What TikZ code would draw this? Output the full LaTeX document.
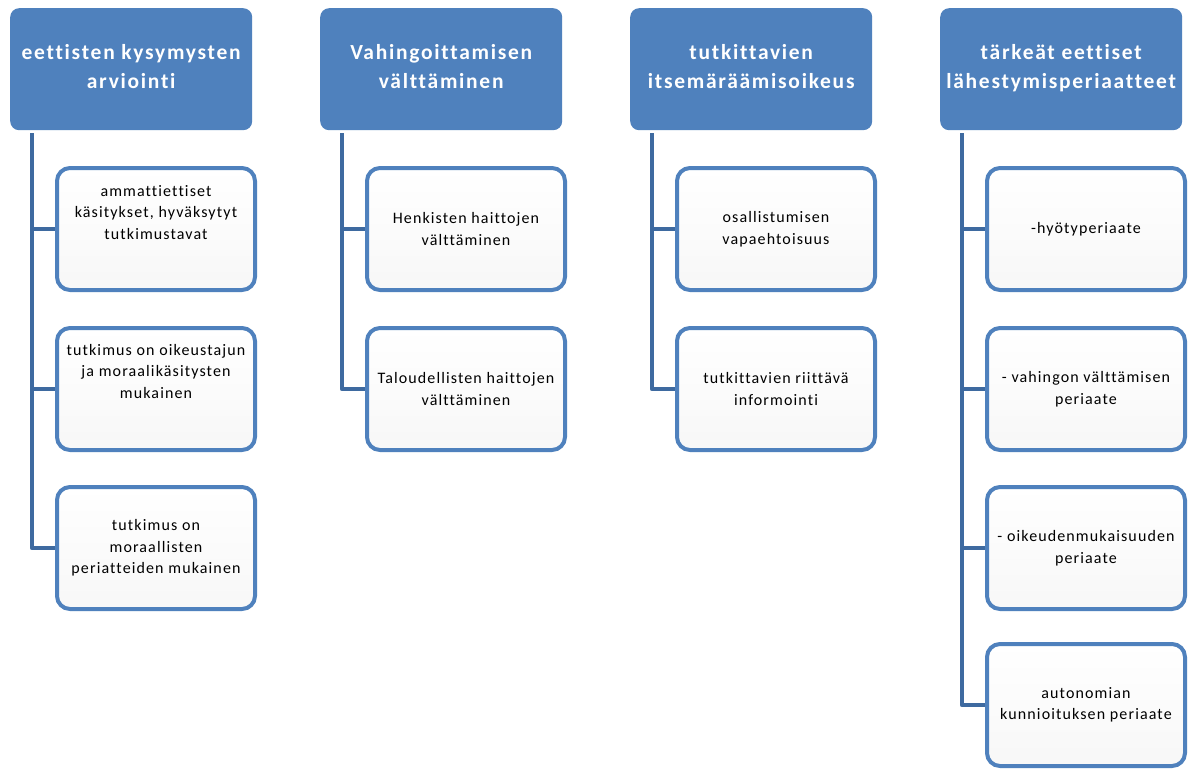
\documentclass[tikz,border=0pt]{standalone}
\usepackage{fontspec}
\setmainfont{Carlito}[Ligatures=NoCommon]
\newfontfamily\hdrfont{Carlito}[LetterSpace=8,Ligatures=NoCommon]
\newfontfamily\kidfont{Carlito}[LetterSpace=7,Ligatures=NoCommon]
\definecolor{hdrblue}{RGB}{79,129,189}
\definecolor{connblue}{RGB}{62,106,160}
\begin{document}
\begin{tikzpicture}[x=1pt,y=-1pt,
  hdr/.style={fill=hdrblue, rounded corners=9pt, minimum width=242pt, minimum height=122pt,
    anchor=north west, inner sep=0pt, text=white, align=center,
    font=\hdrfont\fontsize{21.5}{29}\selectfont\bfseries},
  kid/.style={draw=hdrblue, line width=4pt, rounded corners=13pt, top color=white, bottom color=black!3,
    minimum width=198pt, minimum height=122pt, inner sep=0pt, align=center, text=black,
    font=\kidfont\fontsize{16}{21.5}\selectfont},
  conn/.style={draw=connblue, line width=4.5pt, line join=round}]
\useasboundingbox (0,0) rectangle (1195,769);
\fill[white] (0,0) rectangle (1195,769);

% headers
\node[hdr] (h1) at (10,8) {eettisten kysymysten\\arviointi\rule[-6pt]{0pt}{0pt}};
\node[hdr] (h2) at (320,8) {Vahingoittamisen\\välttäminen\rule[-6pt]{0pt}{0pt}};
\node[hdr] (h3) at (630,8) {tutkittavien\\itsemäräämisoikeus\rule[-6pt]{0pt}{0pt}};
\node[hdr] (h4) at (940,8) {tärkeät eettiset\\lähestymisperiaatteet\rule[-6pt]{0pt}{0pt}};

% connector origins
\coordinate (v1) at (32,133);
\coordinate (v2) at (342,133);
\coordinate (v3) at (652,133);
\coordinate (v4) at (962,133);

% column 1
\node[kid] (c11) at (156,229) {ammattiettiset\\käsitykset, hyväksytyt\\tutkimustavat\rule[-34pt]{0pt}{0pt}};
\node[kid] (c12) at (156,389) {tutkimus on oikeustajun\\ja moraalikäsitysten\\mukainen\rule[-36pt]{0pt}{0pt}};
\node[kid] (c13) at (156,548) {tutkimus on\\moraallisten\\periatteiden mukainen};

% column 2
\node[kid] (c21) at (466,229) {Henkisten haittojen\\välttäminen};
\node[kid] (c22) at (466,389) {Taloudellisten haittojen\\välttäminen};

% column 3
\node[kid] (c31) at (776,229) {osallistumisen\\vapaehtoisuus};
\node[kid] (c32) at (776,389) {tutkittavien riittävä\\informointi};

% column 4
\node[kid] (c41) at (1086,229) {-hyötyperiaate};
\node[kid] (c42) at (1086,389) {- vahingon välttämisen\\periaate};
\node[kid] (c43) at (1086,548) {- oikeudenmukaisuuden\\periaate};
\node[kid] (c44) at (1086,705) {autonomian\\kunnioituksen periaate};

% connectors
\draw[conn] (v1) |- (c11.west);
\draw[conn] (v1) |- (c12.west);
\draw[conn] (v1) |- (c13.west);
\draw[conn] (v2) |- (c21.west);
\draw[conn] (v2) |- (c22.west);
\draw[conn] (v3) |- (c31.west);
\draw[conn] (v3) |- (c32.west);
\draw[conn] (v4) |- (c41.west);
\draw[conn] (v4) |- (c42.west);
\draw[conn] (v4) |- (c43.west);
\draw[conn] (v4) |- (c44.west);
\end{tikzpicture}
\end{document}
